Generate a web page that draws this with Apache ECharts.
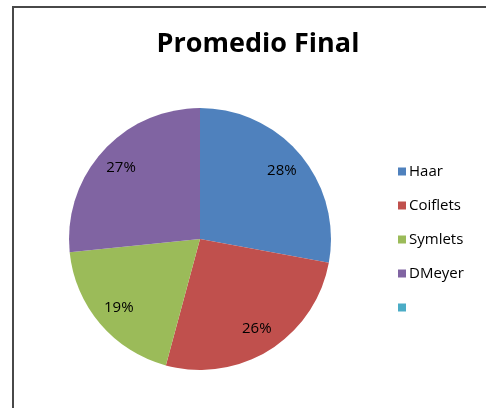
<!DOCTYPE html>
<html>
<head>
<meta charset="UTF-8">
<title>Promedio Final</title>
<script src="https://cdn.jsdelivr.net/npm/echarts@6/dist/echarts.min.js"></script>
<style>
  html, body { margin: 0; padding: 0; background: #fff; }
  #main { width: 486px; height: 408px; }
</style>
</head>
<body>
<div id="main"></div>
<script>
// datos
var names = ['Haar', 'Coiflets', 'Symlets', 'DMeyer', ' '];
var values = [27.9, 26.3, 19.2, 26.6, 0];
var colors = ['#4f81bd', '#c0504d', '#9bbb59', '#8064a2', '#4bacc6'];

var pieData = [];
var labelData = [];
for (var i = 0; i < names.length; i++) {
    pieData.push({ name: names[i], value: values[i], itemStyle: { color: colors[i] } });
    labelData.push({
        name: names[i],
        value: values[i],
        itemStyle: { color: 'transparent' },
        label: { show: values[i] > 0 }
    });
}

var myChart = echarts.init(document.getElementById('main'));

var option = {
    animation: false,
    title: {
        text: 'Promedio Final',
        left: 253,
        top: 26,
        textAlign: 'center',
        textStyle: {
            fontFamily: 'Open Sans',
            fontSize: 27,
            fontWeight: 'bold',
            color: '#000'
        }
    },
    graphic: [{
        type: 'rect',
        shape: { x: 13, y: 7, width: 490, height: 420 },
        style: { fill: 'none', stroke: '#484848', lineWidth: 2 },
        silent: true
    }],
    legend: {
        orient: 'vertical',
        left: 393,
        top: 159,
        itemWidth: 8,
        itemHeight: 8,
        itemGap: 19,
        icon: 'rect',
        data: names,
        textStyle: { fontFamily: 'Open Sans', fontSize: 15, color: '#000', padding: [0, 0, 0, -2] }
    },
    series: [
        {
            // pastel completo
            type: 'pie',
            center: [200, 239],
            radius: [0, 131],
            startAngle: 90,
            clockwise: true,
            label: { show: false },
            labelLine: { show: false },
            emphasis: { disabled: true },
            data: pieData
        },
        {
            // anillo transparente solo para colocar las etiquetas
            type: 'pie',
            center: [200, 239],
            radius: [76, 131],
            startAngle: 90,
            clockwise: true,
            silent: true,
            label: {
                position: 'inside',
                formatter: function (p) { return Math.round(p.percent) + '%'; },
                fontFamily: 'Open Sans',
                fontSize: 15,
                color: '#000'
            },
            labelLine: { show: false },
            emphasis: { disabled: true },
            data: labelData
        }
    ]
};

myChart.setOption(option);
</script>
</body>
</html>
